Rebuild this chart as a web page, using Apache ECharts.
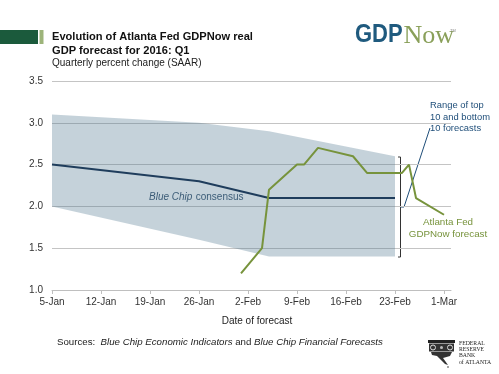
<!DOCTYPE html>
<html>
<head>
<meta charset="utf-8">
<script src="https://cdn.jsdelivr.net/npm/echarts@6/dist/echarts.min.js"></script>
<style>
html,body{margin:0;padding:0;background:#fff;}
#chart{width:499px;height:374px;}
</style>
</head>
<body>
<div id="chart"></div>
<script>
// ---- Data ----
const tickLabels = ['5-Jan','12-Jan','19-Jan','26-Jan','2-Feb','9-Feb','16-Feb','23-Feb','1-Mar'];
const bandDates = ['2016-01-05','2016-01-26','2016-02-05','2016-02-23'];
const consensus = [2.5, 2.3, 2.1, 2.1];
const rangeTop = [3.1, 3.0, 2.9, 2.6];
const rangeBottom = [2.0, 1.6, 1.4, 1.4];
const gdpNowDates = ['2016-02-01','2016-02-04','2016-02-05','2016-02-09','2016-02-10','2016-02-12','2016-02-17','2016-02-19','2016-02-24','2016-02-25','2016-02-26','2016-03-01'];
const gdpNow = [1.2, 1.5, 2.2, 2.5, 2.5, 2.7, 2.6, 2.4, 2.4, 2.5, 2.1, 1.9];

// days since 5-Jan-2016
const origin = Date.UTC(2016, 0, 5);
function dayOf(s) {
  const p = s.split('-').map(Number);
  return Math.round((Date.UTC(p[0], p[1] - 1, p[2]) - origin) / 86400000);
}
const bandDays = bandDates.map(dayOf);
const gdpDays = gdpNowDates.map(dayOf);

const FONT = 'Arial, "Liberation Sans", sans-serif';
const chart = echarts.init(document.getElementById('chart'), null, {renderer: 'canvas'});

const option = {
  animation: false,
  backgroundColor: '#fff',
  grid: {left: 52, right: 48, top: 81, bottom: 84},
  xAxis: {
    type: 'value', min: 0, max: 57, interval: 7,
    axisLine: {show: true, lineStyle: {color: '#bfbfbf', width: 1}},
    axisTick: {show: true, length: 4, lineStyle: {color: '#bfbfbf'}},
    splitLine: {show: false},
    axisLabel: {
      margin: 7, color: '#333', fontSize: 10, fontFamily: FONT,
      showMaxLabel: false,
      formatter: function (v) { return (v % 7 === 0 && tickLabels[v / 7]) ? tickLabels[v / 7] : ''; }
    }
  },
  yAxis: {
    type: 'value', min: 1, max: 3.5, interval: 0.5,
    axisLine: {show: false}, axisTick: {show: false},
    splitLine: {show: true, lineStyle: {color: '#c4c4c4', width: 1}},
    axisLabel: {margin: 9, color: '#333', fontSize: 10, fontFamily: FONT,
      formatter: function (v) { return v.toFixed(1); }}
  },
  series: [
    {
      type: 'custom', name: 'Range',
      data: bandDays.map((d, i) => [d, rangeTop[i], rangeBottom[i]]),
      encode: {x: 0, y: [1, 2]},
      silent: true, z: 1,
      renderItem: function (params, api) {
        if (params.dataIndex !== 0) return null;
        const pts = [];
        for (let i = 0; i < bandDays.length; i++) pts.push(api.coord([bandDays[i], rangeTop[i]]));
        for (let i = bandDays.length - 1; i >= 0; i--) pts.push(api.coord([bandDays[i], rangeBottom[i]]));
        return {type: 'polygon', shape: {points: pts}, style: {fill: 'rgba(78,118,142,0.33)', stroke: null}};
      }
    },
    {
      type: 'line', name: 'Blue Chip consensus', z: 3,
      data: bandDays.map((d, i) => [d, consensus[i]]),
      symbol: 'none', lineStyle: {color: '#1f3d5c', width: 2}
    },
    {
      type: 'line', name: 'Atlanta Fed GDPNow forecast', z: 4,
      data: gdpDays.map((d, i) => [d, gdpNow[i]]),
      symbol: 'none', lineStyle: {color: '#77933c', width: 2}
    }
  ],
  graphic: [
    // title bars
    {type: 'rect', shape: {x: 0, y: 30, width: 38, height: 14}, style: {fill: '#1b5a3c'}},
    {type: 'rect', shape: {x: 39.5, y: 30, width: 4, height: 14}, style: {fill: '#9db47a'}},
    {type: 'text', x: 52, y: 37, style: {text: 'Evolution of Atlanta Fed GDPNow real', font: 'bold 11.1px ' + FONT, fill: '#111', verticalAlign: 'middle'}},
    {type: 'text', x: 52, y: 50.5, style: {text: 'GDP forecast for 2016: Q1', font: 'bold 11.1px ' + FONT, fill: '#111', verticalAlign: 'middle'}},
    {type: 'text', x: 52, y: 63, style: {text: 'Quarterly percent change (SAAR)', font: '10px ' + FONT, fill: '#222', verticalAlign: 'middle'}},
    // GDPNow logo
    {type: 'text', x: 355, y: 48, scaleX: 0.88, style: {text: 'GDP', font: 'bold 25px "Liberation Sans", Arial, sans-serif', fill: '#1f5a7e', verticalAlign: 'bottom'}},
    {type: 'text', x: 403.5, y: 49, style: {text: 'Now', font: '26px "Liberation Serif", "Times New Roman", serif', fill: '#8aa05a', verticalAlign: 'bottom'}},
    {type: 'text', x: 450, y: 29, style: {text: 'TM', font: '4px ' + FONT, fill: '#888'}},
    // axis title
    {type: 'text', x: 257, y: 321, style: {text: 'Date of forecast', font: '10px ' + FONT, fill: '#222', align: 'center', verticalAlign: 'middle'}},
    // in-chart labels
    {type: 'text', x: 149, y: 197.5, style: {text: '{i|Blue Chip} {r|consensus}', verticalAlign: 'middle',
      rich: {i: {font: 'italic 10px ' + FONT, fill: '#33506c'}, r: {font: '10px ' + FONT, fill: '#33506c'}}}},
    {type: 'text', x: 430, y: 117, style: {text: 'Range of top\n10 and bottom\n10 forecasts', font: '9.4px ' + FONT, fill: '#1f4e79', lineHeight: 11.7, verticalAlign: 'middle'}},
    {type: 'text', x: 448, y: 228.5, style: {text: 'Atlanta Fed\nGDPNow forecast', font: '9.8px ' + FONT, fill: '#77933c', lineHeight: 11.7, align: 'center', verticalAlign: 'middle'}},
    // bracket + leader
    {type: 'polyline', shape: {points: [[398, 157], [400.5, 157], [400.5, 257], [398, 257]]}, style: {stroke: '#333', lineWidth: 1, fill: null}},
    {type: 'polyline', shape: {points: [[400.5, 207], [404, 207], [430, 128]]}, style: {stroke: '#1f4e79', lineWidth: 1, fill: null}},
    // sources
    {type: 'text', x: 57, y: 342, style: {text: '{r|Sources:  }{i|Blue Chip Economic Indicators}{r| and }{i|Blue Chip Financial Forecasts}', verticalAlign: 'middle',
      rich: {r: {font: '9.7px ' + FONT, fill: '#222'}, i: {font: 'italic 9.7px ' + FONT, fill: '#222'}}}},
    // Fed logo (approximation)
    {type: 'group', x: 428, y: 340, children: [
      {type: 'rect', shape: {x: 0, y: 0, width: 27, height: 3}, style: {fill: '#222'}},
      {type: 'rect', shape: {x: 1, y: 3.5, width: 25, height: 8}, style: {fill: '#333'}},
      {type: 'circle', shape: {cx: 5, cy: 7.5, r: 2.5}, style: {fill: null, stroke: '#ddd', lineWidth: 1}},
      {type: 'circle', shape: {cx: 22, cy: 7.5, r: 2.5}, style: {fill: null, stroke: '#ddd', lineWidth: 1}},
      {type: 'circle', shape: {cx: 13.5, cy: 7.5, r: 1.5}, style: {fill: '#bbb'}},
      {type: 'polygon', shape: {points: [[3, 12], [24, 12], [22, 16], [15, 18], [20, 25], [17, 24], [9, 16], [4, 15]]}, style: {fill: '#333'}},
      {type: 'circle', shape: {cx: 20, cy: 27, r: 0.8}, style: {fill: '#333'}}
    ]},
    {type: 'text', x: 459, y: 343.5, scaleX: 0.82, style: {text: 'FEDERAL', font: '7px "Liberation Serif", serif', fill: '#222', verticalAlign: 'middle'}},
    {type: 'text', x: 459, y: 349.5, scaleX: 0.82, style: {text: 'RESERVE', font: '7px "Liberation Serif", serif', fill: '#222', verticalAlign: 'middle'}},
    {type: 'text', x: 459, y: 355.5, scaleX: 0.82, style: {text: 'BANK', font: '7px "Liberation Serif", serif', fill: '#222', verticalAlign: 'middle'}},
    {type: 'text', x: 459, y: 362.5, scaleX: 0.82, style: {text: 'of ATLANTA', font: '7px "Liberation Serif", serif', fill: '#222', verticalAlign: 'middle'}}
  ]
};
chart.setOption(option);
</script>
</body>
</html>
